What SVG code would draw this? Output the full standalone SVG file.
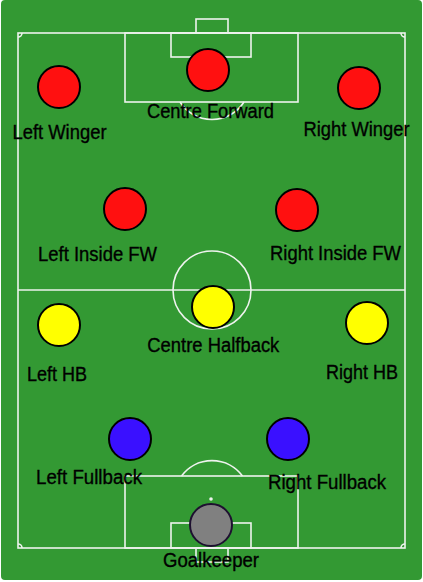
<svg xmlns="http://www.w3.org/2000/svg" width="423" height="582" viewBox="0 0 423 582">
<style>
.line{fill:none;stroke:#eef3ee;stroke-width:1.6}
.p{stroke:#000;stroke-width:2}
.red{fill:#ff1010}
.yel{fill:#ffff00}
.blu{fill:#3a10ff}
.gk{fill:#808080;stroke:#1e1030}
text{font-family:"Liberation Sans",Arial,Helvetica,sans-serif;font-size:20px;fill:#000;stroke:#000;stroke-width:0.35;text-anchor:middle}
</style>
<rect x="0" y="0" width="423" height="582" fill="#ffffff"/>
<rect x="1" y="0" width="421" height="580" rx="4" fill="#339933"/>
<g id="pitch">
<rect class="line" x="18" y="33" width="387" height="515"/>
<line class="line" x1="18" y1="290" x2="405" y2="290"/>
<circle class="line" cx="212" cy="290" r="39"/>
<rect class="line" x="125" y="33" width="173" height="69"/>
<rect class="line" x="171" y="33" width="80" height="24"/>
<rect class="line" x="196" y="19" width="32" height="14"/>
<path class="line" d="M180,102 A38,38 0 0 0 244,102"/>
<rect class="line" x="125" y="476" width="173" height="72"/>
<rect class="line" x="171" y="523" width="80" height="25"/>
<rect class="line" x="196" y="548" width="32" height="14"/>
<path class="line" d="M181.5,476 A38,38 0 0 1 242.5,476"/>
<circle cx="211" cy="499" r="1.8" fill="#eef3ee"/>
<path class="line" d="M22,33 A4,4 0 0 1 18,37"/>
<path class="line" d="M401,33 A4,4 0 0 0 405,37"/>
<path class="line" d="M18,544 A4,4 0 0 1 22,548"/>
<path class="line" d="M405,544 A4,4 0 0 0 401,548"/>
</g>
<g id="connectors"></g>
<g id="centre-forward"><circle class="p red" cx="208" cy="70" r="21"/><text x="210.5" y="118" textLength="127" lengthAdjust="spacingAndGlyphs">Centre Forward</text></g>
<g id="left-winger"><circle class="p red" cx="59" cy="87" r="21"/><text x="59.5" y="139.3" textLength="94" lengthAdjust="spacingAndGlyphs">Left Winger</text></g>
<g id="right-winger"><circle class="p red" cx="359" cy="88" r="21"/><text x="356.5" y="135.5" textLength="106" lengthAdjust="spacingAndGlyphs">Right Winger</text></g>
<g id="left-inside-fw"><circle class="p red" cx="125" cy="209" r="21"/><text x="97.5" y="260.7" textLength="119" lengthAdjust="spacingAndGlyphs">Left Inside FW</text></g>
<g id="right-inside-fw"><circle class="p red" cx="297" cy="210" r="21"/><text x="335.5" y="260" textLength="131" lengthAdjust="spacingAndGlyphs">Right Inside FW</text></g>
<g id="centre-halfback"><circle class="p yel" cx="213" cy="307" r="21"/><text x="213.3" y="351.7" textLength="132" lengthAdjust="spacingAndGlyphs">Centre Halfback</text></g>
<g id="left-hb"><circle class="p yel" cx="59" cy="325" r="21"/><text x="57" y="380.7" textLength="60" lengthAdjust="spacingAndGlyphs">Left HB</text></g>
<g id="right-hb"><circle class="p yel" cx="367" cy="323" r="21"/><text x="362" y="378.7" textLength="72" lengthAdjust="spacingAndGlyphs">Right HB</text></g>
<g id="left-fullback"><circle class="p blu" cx="130" cy="439" r="21"/><text x="89" y="484.3" textLength="106" lengthAdjust="spacingAndGlyphs">Left Fullback</text></g>
<g id="right-fullback"><circle class="p blu" cx="288" cy="439" r="21"/><text x="327" y="489" textLength="118" lengthAdjust="spacingAndGlyphs">Right Fullback</text></g>
<g id="goalkeeper"><circle class="p gk" cx="211" cy="525" r="21"/><text x="211" y="567.3" textLength="96" lengthAdjust="spacingAndGlyphs">Goalkeeper</text></g>
</svg>
